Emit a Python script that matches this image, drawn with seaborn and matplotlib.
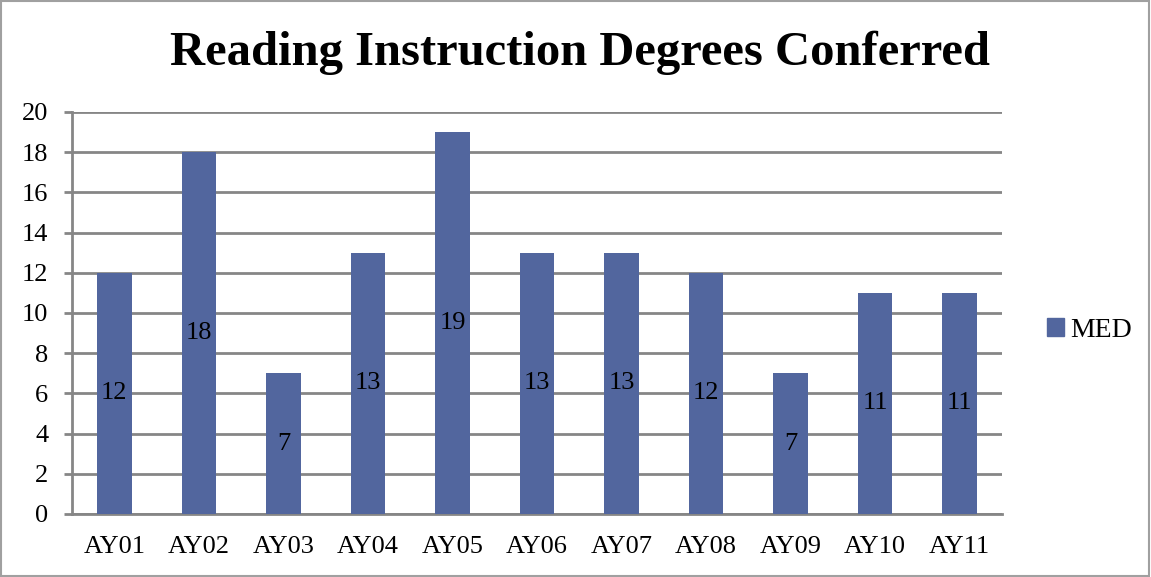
import seaborn as sns
import matplotlib.pyplot as plt
import pandas as pd
from matplotlib.patches import Rectangle

# Data
years = ['AY01', 'AY02', 'AY03', 'AY04', 'AY05', 'AY06',
         'AY07', 'AY08', 'AY09', 'AY10', 'AY11']
med_degrees = [12, 18, 7, 13, 19, 13, 13, 12, 7, 11, 11]
y_ticks = list(range(0, 21, 2))
series_name = 'MED'
chart_title = 'Reading Instruction Degrees Conferred'


def main():
    sns.set_theme(style="white")
    plt.rcParams['font.family'] = ['Liberation Serif', 'DejaVu Serif']
    plt.rcParams['text.color'] = 'black'

    df = pd.DataFrame({'year': years, 'count': med_degrees})

    bar_color = '#52669e'
    grid_color = '#868686'

    fig = plt.figure(figsize=(11.51, 5.77), dpi=100)
    ax = fig.add_axes([0.0626, 0.1092, 0.8079, 0.6968])

    sns.barplot(data=df, x='year', y='count', color=bar_color,
                width=0.41, saturation=1, ax=ax, zorder=3,
                edgecolor='none', linewidth=0)

    ax.set_ylim(0, 20)
    ax.set_xlim(-0.5, len(years) - 0.5)
    ax.set_yticks(y_ticks)
    ax.yaxis.grid(True, color=grid_color, linewidth=2, zorder=0)
    ax.set_axisbelow(True)

    # value labels in the middle of each bar
    for i, v in enumerate(med_degrees):
        ax.text(i, v / 2, str(v), ha='center', va='center',
                fontsize=19, color='black', zorder=4)

    for side in ['top', 'right']:
        ax.spines[side].set_visible(False)
    for side in ['left', 'bottom']:
        ax.spines[side].set_color(grid_color)
        ax.spines[side].set_linewidth(2)

    # tick marks on the x axis sit between the categories
    ax.set_xticks([i - 0.5 for i in range(len(years) + 1)], minor=True)
    ax.tick_params(axis='x', which='major', length=0, labelsize=19, pad=16,
                   colors='black')
    ax.tick_params(axis='x', which='minor', length=7, width=2,
                   color=grid_color, direction='out')
    ax.tick_params(axis='y', length=6, width=2, color=grid_color,
                   labelsize=19, pad=11, labelcolor='black', left=True)
    ax.set_xlabel('')
    ax.set_ylabel('')

    fig.text(0.504, 0.908, chart_title, ha='center', va='center',
             fontsize=35, fontweight='bold', color='black')

    # legend on the right
    handle = Rectangle((0, 0), 1, 1, color=bar_color)
    fig.legend([handle], [series_name], loc='center left',
               bbox_to_anchor=(0.888, 0.428), frameon=False,
               fontsize=20, handlelength=0.6, handleheight=0.6,
               handletextpad=0.25)

    # thin frame around the whole picture
    fig.patches.append(Rectangle((0.001, 0.002), 0.997, 0.996,
                                 transform=fig.transFigure, fill=False,
                                 edgecolor='#a0a0a0', linewidth=1.5))

    plt.savefig('out.png', dpi=100)


if __name__ == "__main__":
    main()
